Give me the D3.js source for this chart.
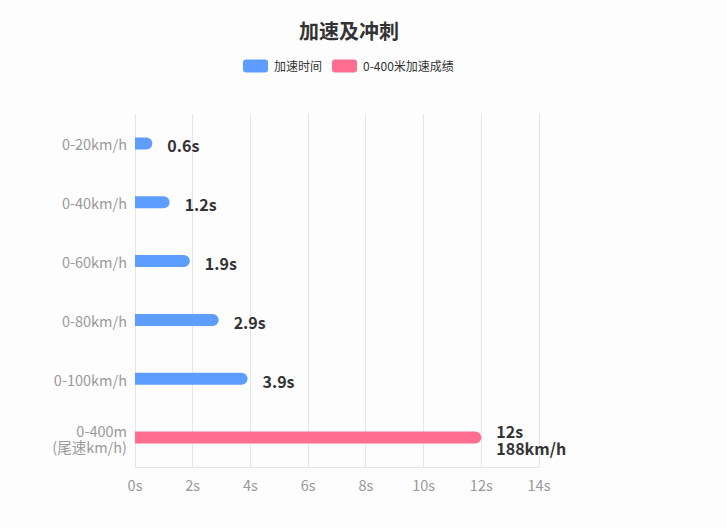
<!DOCTYPE html>
<html><head><meta charset="utf-8">
<script src="https://cdn.jsdelivr.net/npm/d3@7/dist/d3.min.js"></script>
<style>body{margin:0;background:#fdfdfd;}svg{display:block;font-family:"Noto Sans CJK SC","Noto Sans",sans-serif;}</style>
</head><body><svg id="c" width="727" height="528"></svg>
<script>
const categories = ["0-20km/h","0-40km/h","0-60km/h","0-80km/h","0-100km/h","0-400m\n(尾速km/h)"];
const accelTimes = [0.6, 1.2, 1.9, 2.9, 3.9, null];
const sprintTimes = [null, null, null, null, null, 12];
const sprintSpeed = 188;
const xTicks = [0,2,4,6,8,10,12,14];
const seriesNames = ["加速时间","0-400米加速成绩"];
const colors = ["#5c9dff","#ff6e90"];

const svg = d3.select("#c");
const x = d3.scaleLinear().domain([0,14]).range([135,539]);
const y = d3.scaleBand().domain(categories).range([114,467]);
const barH = 12;

svg.append("text").attr("x",349).attr("y",39).attr("text-anchor","middle")
  .attr("font-size",20).attr("font-weight","bold").attr("fill","#333").text("加速及冲刺");

// legend
const lg = svg.append("g");
const legendX = [243, 332];
seriesNames.forEach((n,i)=>{
  lg.append("rect").attr("x",legendX[i]).attr("y",59.5).attr("width",25).attr("height",13).attr("rx",3).attr("fill",colors[i]);
  lg.append("text").attr("x",legendX[i]+31).attr("y",70.5).attr("font-size",12).attr("fill","#333").text(n);
});

// grid
svg.append("g").selectAll("line").data(xTicks).join("line")
  .attr("x1",d=>x(d)).attr("x2",d=>x(d)).attr("y1",114).attr("y2",467)
  .attr("stroke","#e6e6e6").attr("stroke-width",1).attr("shape-rendering","crispEdges");
svg.append("line").attr("x1",135).attr("x2",539).attr("y1",467.5).attr("y2",467.5).attr("stroke","#e6e6e6");

// x axis labels
svg.append("g").selectAll("text").data(xTicks).join("text")
  .attr("x",d=>x(d)).attr("y",491).attr("text-anchor","middle").attr("font-size",14.5).attr("fill","#999")
  .text(d=>d+"s");

// y labels
categories.forEach(c=>{
  const lines = c.split("\n");
  const cy = y(c)+y.bandwidth()/2;
  const t = svg.append("text").attr("text-anchor","end").attr("font-size",14.5).attr("fill","#999");
  lines.forEach((l,i)=>{
    t.append("tspan").attr("x",127).attr("y",cy + 7 + (i-(lines.length-1)/2)*16).text(l);
  });
});

function barPath(x0,x1,cy,h){
  const r=h/2, top=cy-r;
  return `M${x0},${top}H${x1-r}A${r},${r} 0 0 1 ${x1-r},${top+h}H${x0}Z`;
}

const groups = [accelTimes, sprintTimes];
groups.forEach((vals,si)=>{
  categories.forEach((c,i)=>{
    const v = vals[i]; if(v==null) return;
    const cy = y(c)+y.bandwidth()/2;
    svg.append("path").attr("d",barPath(x(0),x(v),cy,barH)).attr("fill",colors[si]);
    const t = svg.append("text").attr("font-size",16).attr("font-weight","bold").attr("fill","#333");
    const lbls = si===0 ? [v+"s"] : [v+"s", sprintSpeed+"km/h"];
    lbls.forEach((l,k)=>{
      t.append("tspan").attr("x",x(v)+15).attr("y",cy+9+(k-(lbls.length-1)/2)*17).text(l);
    });
  });
});
</script></body></html>
